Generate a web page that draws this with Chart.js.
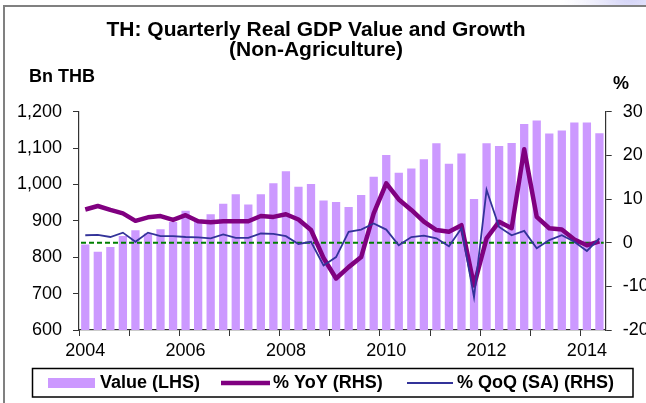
<!DOCTYPE html>
<html>
<head>
<meta charset="utf-8">
<script src="https://cdn.jsdelivr.net/npm/chart.js@4.4.1/dist/chart.umd.min.js"></script>
<style>
  html, body { margin: 0; padding: 0; background: #fff; overflow: hidden; }
  #wrap { width: 646px; height: 403px; position: relative; overflow: hidden; }
  #graficoPib { display: block; }
</style>
</head>
<body>
<div id="wrap"><canvas id="graficoPib" width="646" height="403"></canvas></div>
<script>
// dados (trimestres 2004 Q1 .. 2014 Q2)
const quarters = [
  '2004 Q1','2004 Q2','2004 Q3','2004 Q4','2005 Q1','2005 Q2','2005 Q3','2005 Q4',
  '2006 Q1','2006 Q2','2006 Q3','2006 Q4','2007 Q1','2007 Q2','2007 Q3','2007 Q4',
  '2008 Q1','2008 Q2','2008 Q3','2008 Q4','2009 Q1','2009 Q2','2009 Q3','2009 Q4',
  '2010 Q1','2010 Q2','2010 Q3','2010 Q4','2011 Q1','2011 Q2','2011 Q3','2011 Q4',
  '2012 Q1','2012 Q2','2012 Q3','2012 Q4','2013 Q1','2013 Q2','2013 Q3','2013 Q4',
  '2014 Q1','2014 Q2'
];
const gdpValue = [
  835, 815, 828, 858, 874, 865, 877, 897,
  928, 900, 918, 947, 973, 945, 973, 1003,
  1036, 994, 1001, 956, 952, 938, 971, 1021,
  1081, 1032, 1044, 1069, 1113, 1057, 1085, 960,
  1113, 1106, 1114, 1166, 1176, 1140, 1148, 1170,
  1170, 1141
];
const yoyGrowth = [
  7.6, 8.4, 7.5, 6.7, 5.0, 5.8, 6.1, 5.2,
  6.3, 4.9, 4.7, 4.9, 4.9, 4.9, 6.1, 5.9,
  6.5, 5.3, 2.9, -3.5, -8.2, -5.6, -3.3, 6.7,
  13.6, 9.9, 7.5, 4.8, 2.9, 2.5, 4.0, -9.8,
  1.0, 4.8, 3.3, 21.4, 5.9, 3.3, 3.0, 0.7,
  -0.6, 0.3
];
const qoqGrowth = [
  1.7, 1.8, 1.3, 2.3, 0.2, 2.3, 1.5, 1.5,
  1.3, 1.2, 1.0, 1.9, 1.1, 1.1, 2.1, 2.0,
  1.5, -0.3, 0.2, -5.2, -3.3, 2.5, 3.0, 4.4,
  3.0, -0.6, 1.3, 1.6, 1.0, -0.8, 3.3, -12.5,
  12.1, 3.6, 1.7, 2.7, -1.3, 0.6, 1.7, 0.2,
  -1.9, 1.0
];
const yearLabels = ['2004', '2006', '2008', '2010', '2012', '2014'];
const leftAxis = { min: 600, max: 1200, step: 100 };
const rightAxis = { min: -20, max: 30, step: 10 };
const seriesNames = ['Value (LHS)', '% YoY (RHS)', '% QoQ (SA) (RHS)'];

const FONTE = "'Liberation Sans', Arial, sans-serif";
const AXIS_COLOR = '#333';

// moldura, titulos dos eixos e legenda em caixa
const extras = {
  id: 'extras',
  beforeDraw(chart) {
    const ctx = chart.ctx;
    ctx.save();
    const g = ctx.createRadialGradient(630, -10, 2, 630, -10, 70);
    g.addColorStop(0, 'rgba(200,200,245,0.9)');
    g.addColorStop(1, 'rgba(230,230,250,0)');
    ctx.fillStyle = g;
    ctx.fillRect(540, 0, 106, 5);
    ctx.strokeStyle = '#808080';
    ctx.lineWidth = 2;
    ctx.strokeRect(4, 6, 700, 500);
    ctx.restore();
  },
  afterDatasetDraw(chart, args) {
    if (args.index !== 0) return;
    // linha tracejada no zero (eixo direito)
    const ctx = chart.ctx;
    const area = chart.chartArea;
    const y0 = chart.scales.y1.getPixelForValue(0);
    ctx.save();
    ctx.strokeStyle = '#008000';
    ctx.lineWidth = 2;
    ctx.setLineDash([5, 3]);
    ctx.beginPath();
    ctx.moveTo(area.left + 2, y0);
    ctx.lineTo(area.right - 2, y0);
    ctx.stroke();
    ctx.restore();
  },
  afterDraw(chart) {
    const ctx = chart.ctx;
    ctx.save();
    ctx.fillStyle = '#000';
    ctx.font = 'bold 18px ' + FONTE;
    ctx.textBaseline = 'middle';
    ctx.textAlign = 'left';
    ctx.fillText('Bn THB', 29, 77);
    ctx.fillText('%', 613, 84);

    // legenda
    ctx.strokeStyle = '#000';
    ctx.lineWidth = 1.5;
    ctx.strokeRect(32.5, 368.5, 600.5, 28.5);
    const ly = 383;
    const ds = chart.data.datasets;
    ctx.fillStyle = ds[0].backgroundColor;
    ctx.fillRect(48, ly - 5, 47, 10);
    ctx.fillStyle = '#000';
    ctx.fillText(ds[0].label, 100, ly);

    ctx.strokeStyle = ds[1].borderColor;
    ctx.lineWidth = ds[1].borderWidth;
    ctx.beginPath(); ctx.moveTo(221, ly); ctx.lineTo(270, ly); ctx.stroke();
    ctx.fillText(ds[1].label, 273, ly);

    ctx.strokeStyle = ds[2].borderColor;
    ctx.lineWidth = ds[2].borderWidth;
    ctx.beginPath(); ctx.moveTo(407, ly); ctx.lineTo(453, ly); ctx.stroke();
    ctx.fillText(ds[2].label, 457, ly);
    ctx.restore();
  }
};

const ctx = document.getElementById('graficoPib').getContext('2d');
new Chart(ctx, {
  type: 'bar',
  data: {
    labels: quarters,
    datasets: [
      {
        type: 'bar',
        label: seriesNames[0],
        data: gdpValue,
        yAxisID: 'y',
        backgroundColor: '#CC99FF',
        barPercentage: 0.66,
        categoryPercentage: 1,
        order: 3
      },
      {
        type: 'line',
        label: seriesNames[1],
        data: yoyGrowth,
        yAxisID: 'y1',
        borderColor: '#800080',
        borderWidth: 4.5,
        pointRadius: 0,
        tension: 0,
        borderJoinStyle: 'round',
        order: 2
      },
      {
        type: 'line',
        label: seriesNames[2],
        data: qoqGrowth,
        yAxisID: 'y1',
        borderColor: '#333399',
        borderWidth: 1.8,
        pointRadius: 0,
        tension: 0,
        order: 1
      }
    ]
  },
  options: {
    responsive: false,
    animation: false,
    // padding esquerdo negativo so para centralizar o titulo como no original
    layout: { padding: { left: -14, right: 0, top: 0, bottom: 0 } },
    plugins: {
      legend: { display: false },
      tooltip: { enabled: false },
      title: {
        display: true,
        text: ['TH: Quarterly Real GDP Value and Growth', '(Non-Agriculture)'],
        color: '#000',
        font: { family: FONTE, size: 21, weight: 'bold', lineHeight: 0.952 },
        padding: { top: 20, bottom: 51.7 }
      }
    },
    scales: {
      x: {
        type: 'category',
        offset: true,
        grid: {
          offset: true,
          drawOnChartArea: false,
          tickLength: 6,
          color: (c) => (c.index % 4 === 0 ? AXIS_COLOR : 'rgba(0,0,0,0)')
        },
        border: { display: true, color: AXIS_COLOR, width: 1.2 },
        ticks: {
          autoSkip: false,
          maxRotation: 0,
          padding: 4,
          color: '#000',
          font: { family: FONTE, size: 18 },
          callback: function (value) {
            const lab = this.getLabelForValue(value);
            const ano = lab.slice(0, 4);
            return lab.endsWith('Q1') && yearLabels.includes(ano) ? ano : '';
          }
        },
        afterFit: (s) => { s.height = 73; }
      },
      y: {
        type: 'linear',
        position: 'left',
        min: leftAxis.min,
        max: leftAxis.max,
        grid: { drawOnChartArea: false, tickLength: 6, color: AXIS_COLOR },
        border: { display: true, color: AXIS_COLOR, width: 1.2 },
        ticks: {
          stepSize: leftAxis.step,
          padding: 11,
          color: '#000',
          font: { family: FONTE, size: 18 },
          callback: (v) => v.toLocaleString('en-US')
        },
        afterFit: (s) => { s.width = 93; }
      },
      y1: {
        type: 'linear',
        position: 'right',
        min: rightAxis.min,
        max: rightAxis.max,
        grid: { drawOnChartArea: false, tickLength: 6, color: AXIS_COLOR },
        border: { display: true, color: AXIS_COLOR, width: 1.2 },
        ticks: {
          stepSize: rightAxis.step,
          padding: 11,
          color: '#000',
          font: { family: FONTE, size: 18 }
        },
        afterFit: (s) => { s.width = 40.3; }
      }
    }
  },
  plugins: [extras]
});
</script>
</body>
</html>
